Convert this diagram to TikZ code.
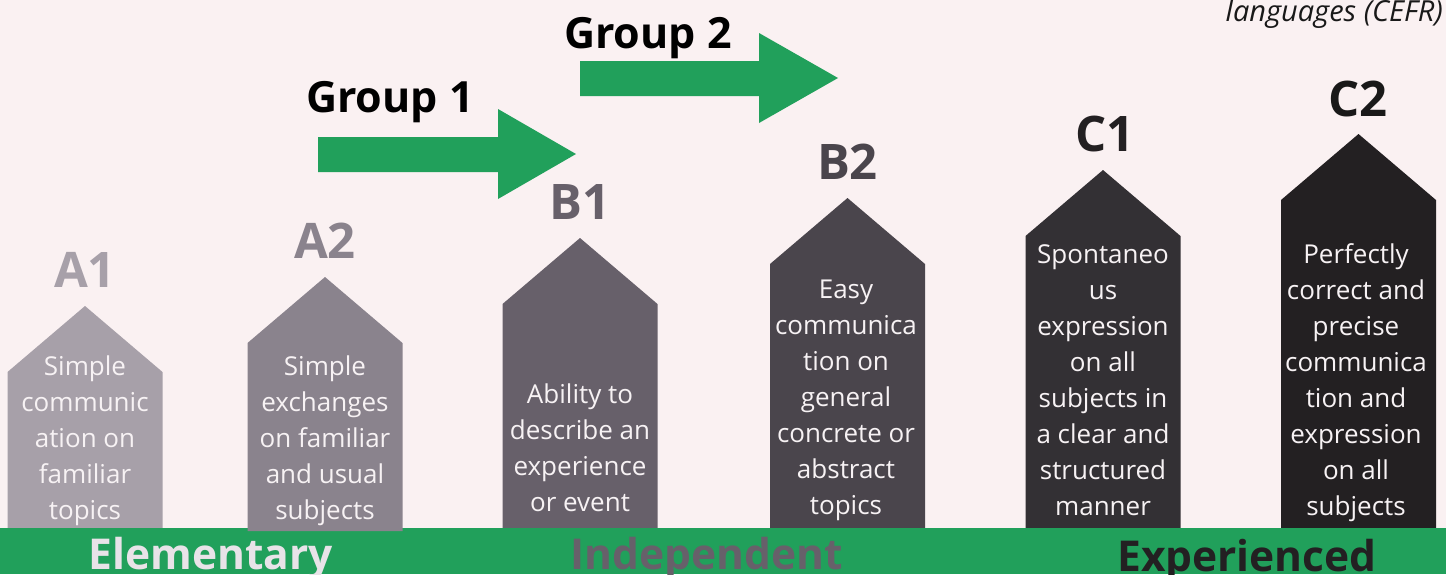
\documentclass[tikz,border=0pt]{standalone}
\usepackage{fontspec}
\setmainfont{Open Sans}
\definecolor{bg}{HTML}{FAF1F2}
\definecolor{band}{HTML}{21A05B}
\definecolor{cA1}{HTML}{A7A0A9}
\definecolor{cA2}{HTML}{8A838D}
\definecolor{cB1}{HTML}{67606A}
\definecolor{cB2}{HTML}{4A454C}
\definecolor{cC1}{HTML}{333034}
\definecolor{cC2}{HTML}{232022}
\definecolor{txtw}{HTML}{F7F2F4}
\definecolor{elem}{HTML}{E8E3E8}
\newcommand\mylines[1]{\vtop{\halign{\hfil##\hfil\cr#1\crcr}}}
\begin{document}
\begin{tikzpicture}[x=1pt,y=-1pt,
  body/.style={anchor=base,inner sep=0pt,text=txtw,font=\fontsize{26}{36}\selectfont},
  lvl/.style={anchor=base,inner sep=0pt,font=\fontsize{49}{55}\selectfont\bfseries},
  grp/.style={anchor=base west,inner sep=0pt,font=\fontsize{43}{48}\selectfont\bfseries},
  bandlab/.style={anchor=base,inner sep=0pt,font=\fontsize{42.5}{48}\selectfont\bfseries}]
\useasboundingbox (0,0) rectangle (1446,574);
\fill[bg] (0,0) rectangle (1446,574);
% level shapes
\foreach \x/\ap/\col/\bot in {85/306/cA1/528, 580/238/cB1/528, 847.5/198/cB2/528, 1103/170/cC1/528, 1358.5/134/cC2/528}{
  \fill[\col] (\x-77.5,\bot) -- (\x-77.5,\ap+66) -- (\x,\ap) -- (\x+77.5,\ap+66) -- (\x+77.5,\bot) -- cycle;
}
% band
\fill[band] (0,528) rectangle (1446,574);
\fill[cA2] (325-77.5,531) -- (325-77.5,277+66) -- (325,277) -- (325+77.5,277+66) -- (325+77.5,531) -- cycle;
% level labels
\node[lvl,text=cA1] (lA1) at (85,287) {A1};
\node[lvl,text=cA2] (lA2) at (325,258) {A2};
\node[lvl,text=cB1] (lB1) at (580,219) {B1};
\node[lvl,text=cB2] (lB2) at (847.5,179) {B2};
\node[lvl,text=cC2] (lC1) at (1105,151) {C1};
\node[lvl,text=black!90] (lC2) at (1358,116) {C2};
% body texts
\node[body] (tA1) at (85,375) {\mylines{Simple\cr communic\cr ation on\cr familiar\cr topics}};
\node[body] (tA2) at (325,375) {\mylines{Simple\cr exchanges\cr on familiar\cr and usual\cr subjects}};
\node[body] (tB1) at (580,403) {\mylines{Ability to\cr describe an\cr experience\cr or event}};
\node[body] (tB2) at (846,298) {\mylines{Easy\cr communica\cr tion on\cr general\cr concrete or\cr abstract\cr topics}};
\node[body] (tC1) at (1103,263) {\mylines{Spontaneo\cr us\cr expression\cr on all\cr subjects in\cr a clear and\cr structured\cr manner}};
\node[body] (tC2) at (1356,263) {\mylines{Perfectly\cr correct and\cr precise\cr communica\cr tion and\cr expression\cr on all\cr subjects}};
% group arrows
\fill[band] (318,137) -- (498,137) -- (498,109) -- (576,154) -- (498,199) -- (498,172) -- (318,172) -- cycle;
\fill[band] (580,61) -- (759,61) -- (759,33) -- (838,78) -- (759,123) -- (759,96) -- (580,96) -- cycle;
\node[grp] (g1) at (306,112) {Group 1};
\node[grp] (g2) at (564,48) {Group 2};
% band labels
\node[bandlab,text=elem] (be) at (211,569) {Elementary};
\node[bandlab,text=cB1] (bi) at (707,569) {Independent};
\node[bandlab,text=cC2] (bx) at (1247,571) {Experienced};
% top-right caption
\node[anchor=base east,inner sep=0pt,font=\fontsize{29}{32}\selectfont\itshape,text=black!90] (cap) at (1443,21) {languages (CEFR)};
\end{tikzpicture}
\end{document}
